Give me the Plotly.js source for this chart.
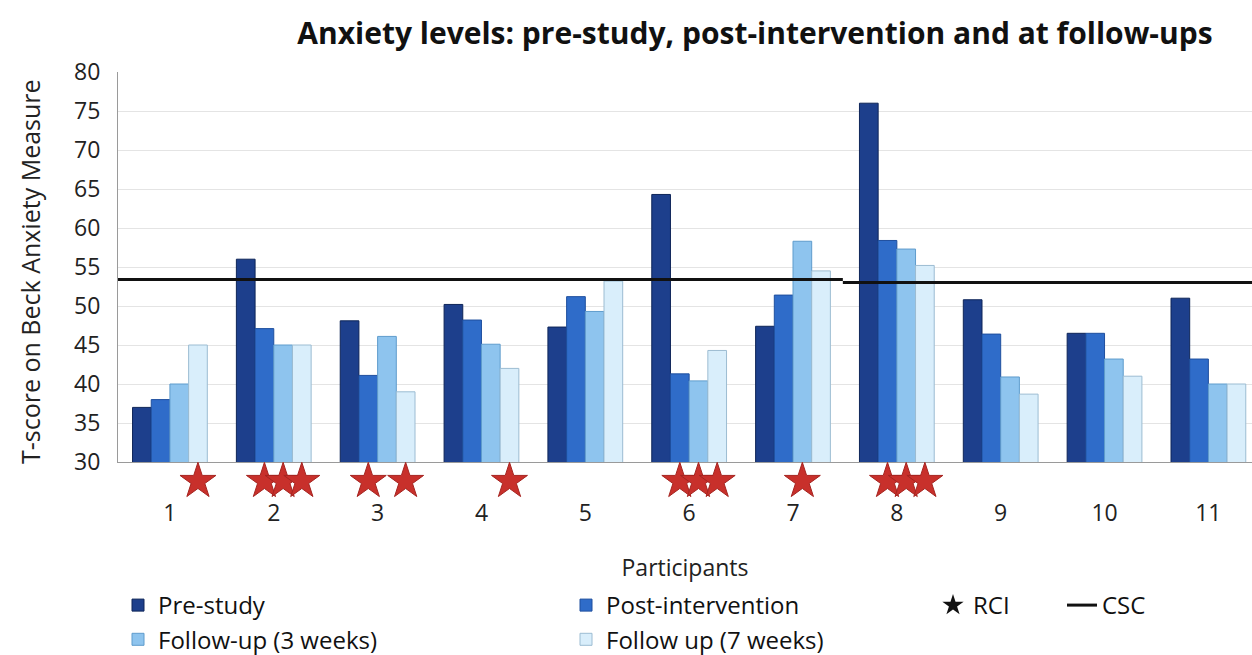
<!DOCTYPE html>
<html>
<head>
<meta charset="utf-8">
<script src="https://cdn.plot.ly/plotly-3.0.1.min.js"></script>
<style>html,body{margin:0;padding:0;background:#fff;}#chart{width:1252px;height:655px;}</style>
</head>
<body>
<div id="chart"></div>
<script>
// ---- data ----
const participants = [1, 2, 3, 4, 5, 6, 7, 8, 9, 10, 11];
const preStudy = [37.0, 56.0, 48.1, 50.2, 47.3, 64.3, 47.4, 76.0, 50.8, 46.5, 51.0];
const postIntervention = [38.0, 47.1, 41.1, 48.2, 51.2, 41.3, 51.4, 58.4, 46.4, 46.5, 43.2];
const followUp3 = [40.0, 45.0, 46.1, 45.1, 49.3, 40.4, 58.3, 57.3, 40.9, 43.2, 40.0];
const followUp7 = [45.0, 45.0, 39.0, 42.0, 53.2, 44.3, 54.5, 55.2, 38.7, 41.0, 40.0];
const seriesNames = ['Pre-study', 'Post-intervention', 'Follow-up (3 weeks)', 'Follow up (7 weeks)'];
// participants with a reliable change (RCI) for each series
const rciPre = [];
const rciPost = [2, 3, 6, 8];
const rciFollow3 = [2, 6, 7, 8];
const rciFollow7 = [1, 2, 3, 4, 6, 8];
// clinically significant change cut-off (CSC) segments
const cscStart = [0.5, 7.48];
const cscEnd = [7.48, 11.5];
const cscValue = [53.4, 53.0];
const xTickLabels = ['1', '2', '3', '4', '5', '6', '7', '8', '9', '10', '11'];
const yTitle = 'T-score on Beck Anxiety Measure';

// ---- styling ----
const colors = ['#1d3f8c', '#2f6cc9', '#8ec4ee', '#d9eefb'];
const edge = ['#0e2558', '#1f4f9e', '#5f9ccc', '#9cbcd2'];
const bargap = 0.28;
const nSeries = 4;
const font = '"Open Sans", "DejaVu Sans", sans-serif';
function offsetX(list, idx) {
  return list.map(p => p + (-0.5 + (idx + 0.5) / nSeries) * (1 - bargap));
}

const seriesVals = [preStudy, postIntervention, followUp3, followUp7];
const legendFor = ['legend', 'legend2', 'legend', 'legend2'];
const traces = [];
seriesVals.forEach((vals, i) => {
  traces.push({
    type: 'bar', x: participants, y: vals, name: seriesNames[i], xaxis: 'x', yaxis: 'y',
    marker: {color: colors[i], line: {color: edge[i], width: 1}},
    legend: legendFor[i], hoverinfo: 'x+y'
  });
});
const rciLists = [rciPre, rciPost, rciFollow3, rciFollow7];
rciLists.forEach((lst, i) => {
  if (!lst.length) return;
  traces.push({
    type: 'scatter', mode: 'markers', x: offsetX(lst, i), y: lst.map(() => 0.45),
    xaxis: 'x', yaxis: 'y2',
    marker: {symbol: 'star', size: 27, color: '#c8302b', line: {color: '#a52420', width: 1}},
    cliponaxis: false, showlegend: false, hoverinfo: 'skip'
  });
});
// legend entry for RCI
traces.push({
  type: 'scatter', mode: 'markers', x: [null], y: [null], name: 'RCI', xaxis: 'x', yaxis: 'y2',
  marker: {symbol: 'star', size: 22, color: '#111'}, legend: 'legend3'
});
cscStart.forEach((s, k) => {
  traces.push({
    type: 'scatter', mode: 'lines', x: [s, cscEnd[k]], y: [cscValue[k], cscValue[k]],
    xaxis: 'x2', yaxis: 'y',
    line: {color: '#111', width: 3}, name: 'CSC', legend: 'legend4',
    showlegend: k === 0, cliponaxis: true, hoverinfo: 'skip'
  });
});

const W = 1252, H = 655, plotLeft = 118, plotTop = 72, plotBottom = 497, axisY = 462;
const mainBottom = (plotBottom - axisY) / (plotBottom - plotTop);
const legendTop = 1 - 583 / H;
const legendFont = {size: 24, color: '#111'};
const layout = {
  width: W, height: H,
  paper_bgcolor: '#fff', plot_bgcolor: '#fff',
  margin: {l: plotLeft, r: 0, t: plotTop, b: H - plotBottom, autoexpand: false},
  barmode: 'group', bargap: bargap, bargroupgap: 0,
  font: {family: font, size: 23, color: '#222'},
  title: {text: '<b>Anxiety levels: pre-study, post-intervention and at follow-ups</b>',
    font: {family: font, size: 30, color: '#111'}, xref: 'container', x: 0.603, xanchor: 'center',
    yref: 'container', y: 1 - 33 / H, yanchor: 'middle'},
  xaxis: {
    anchor: 'y2', range: [0.5, 11.42], tickvals: participants, ticktext: xTickLabels,
    showgrid: false, zeroline: false, showline: false,
    ticks: '', ticklabelstandoff: 0, tickfont: {size: 23, color: '#222'},
    title: {text: 'Participants', font: {size: 23, color: '#222'}}
  },
  xaxis2: {
    overlaying: 'x', matches: 'x', anchor: 'y', range: [0.5, 11.42],
    showgrid: false, zeroline: false, showline: true, linecolor: '#9a9a9a', linewidth: 1,
    showticklabels: false, ticks: ''
  },
  yaxis: {
    domain: [mainBottom, 1], range: [30, 80], dtick: 5, tick0: 30,
    showgrid: true, gridcolor: '#e4e4e4', gridwidth: 1, zeroline: false,
    showline: true, linecolor: '#9a9a9a', linewidth: 1,
    ticks: 'outside', ticklen: 12, tickcolor: 'rgba(0,0,0,0)',
    tickfont: {size: 23, color: '#222'}
  },
  yaxis2: {
    domain: [0, mainBottom], range: [0, 1], showgrid: false, zeroline: false,
    showline: false, showticklabels: false, ticks: ''
  },
  annotations: [{
    text: yTitle, textangle: -90, showarrow: false, font: {size: 25, color: '#222'},
    xref: 'paper', yref: 'paper', x: (30 - plotLeft) / (W - plotLeft),
    y: (plotBottom - 272) / (plotBottom - plotTop), xanchor: 'center', yanchor: 'middle'
  }],
  legend: {orientation: 'v', xref: 'container', yref: 'container', x: 118 / W, y: legendTop,
    xanchor: 'left', yanchor: 'top', font: legendFont, tracegroupgap: 0, bgcolor: 'rgba(0,0,0,0)'},
  legend2: {orientation: 'v', xref: 'container', yref: 'container', x: 566 / W, y: legendTop,
    xanchor: 'left', yanchor: 'top', font: legendFont, tracegroupgap: 0, bgcolor: 'rgba(0,0,0,0)'},
  legend3: {orientation: 'h', xref: 'container', yref: 'container', x: 933 / W, y: legendTop,
    xanchor: 'left', yanchor: 'top', font: legendFont, bgcolor: 'rgba(0,0,0,0)'},
  legend4: {orientation: 'h', xref: 'container', yref: 'container', x: 1062 / W, y: legendTop,
    xanchor: 'left', yanchor: 'top', font: legendFont, bgcolor: 'rgba(0,0,0,0)'},
  showlegend: true
};
Plotly.newPlot('chart', traces, layout, {displayModeBar: false, staticPlot: true});
</script>
</body>
</html>
